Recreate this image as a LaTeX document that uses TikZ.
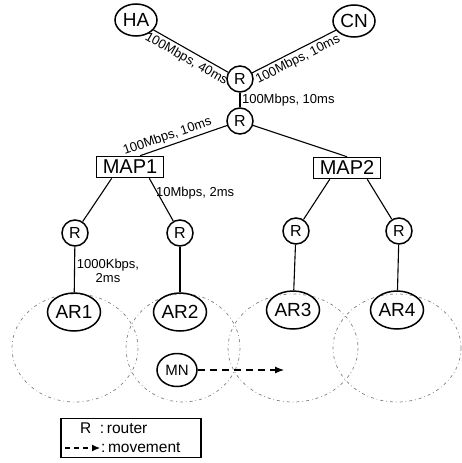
\documentclass[tikz,border=0pt]{standalone}
\usepackage{fontspec}
\setmainfont{Liberation Sans}
\usetikzlibrary{shapes.geometric,arrows.meta}

\tikzset{
  nodeline/.style={draw, line width=1.5pt, inner sep=0pt},
  host/.style={nodeline, ellipse, minimum width=42pt, minimum height=32pt,
    font=\fontsize{19}{19}\selectfont},
  router/.style={nodeline, circle, minimum size=26pt,
    font=\fontsize{16}{16}\selectfont},
  mapbox/.style={nodeline, rectangle, minimum width=67pt, minimum height=21pt,
    font=\fontsize{20}{20}\selectfont},
  access/.style={nodeline, ellipse, minimum width=53pt, minimum height=38pt,
    font=\fontsize{19}{19}\selectfont},
  mobile/.style={nodeline, ellipse, minimum width=40pt, minimum height=33pt,
    font=\fontsize{15}{15}\selectfont},
  cell/.style={draw=gray, line width=0.7pt,
    dash pattern=on 3pt off 3pt on 0.7pt off 3pt},
  link/.style={line width=1.1pt},
  linklabel/.style={font=\fontsize{13}{14}\selectfont, inner sep=2.5pt},
  legendtext/.style={font=\fontsize{15.5}{16}\selectfont, anchor=west, inner sep=1pt},
  move/.style={line width=1.1pt, dash pattern=on 7pt off 5pt,
    -{Latex[length=9pt,width=7pt]}}
}

\begin{document}
\begin{tikzpicture}[x=1pt, y=-1pt]
\useasboundingbox (0,0) rectangle (462,463);

% Cells round the access routers
\draw[cell] (75,348) ellipse (63 and 54);
\draw[cell] (183,348) ellipse (57 and 54);
\draw[cell] (293,348) ellipse (65 and 54);
\draw[cell] (397,348) ellipse (64 and 54);

% Home agent, correspondent node and core routers
\node[host] (HA) at (136,20) {HA};
\node[host] (CN) at (354,21) {CN};
\node[router] (R0) at (240,79) {R};
\node[router] (R1) at (240,121) {R};

% Mobility anchor points
\node[mapbox] (MAP1) at (130,167) {MAP1};
\node[mapbox] (MAP2) at (347,168) {MAP2};

% Routers below the MAPs
\node[router] (R11) at (75,233) {R};
\node[router] (R12) at (180,233) {R};
\node[router] (R21) at (296,231) {R};
\node[router] (R22) at (399,231) {R};

% Access routers and mobile node
\node[access] (AR1) at (74,312) {AR1};
\node[access] (AR2) at (180,312) {AR2};
\node[access] (AR3) at (293,310) {AR3};
\node[access] (AR4) at (397,310) {AR4};
\node[mobile] (MN) at (177,370) {MN};
\coordinate (MNend) at (284,370);

% Links
\draw[link] (HA) -- node[linklabel, midway, sloped, below] {100Mbps, 40ms} (R0);
\draw[link] (R0) -- node[linklabel, midway, sloped, below] {100Mbps, 10ms} (CN);
\draw[link] (R0) -- node[linklabel, midway, right, inner sep=1.5pt] {100Mbps, 10ms} (R1);
\draw[link] ([xshift=10pt]MAP1.north) -- node[linklabel, pos=0.35, sloped, above] {100Mbps, 10ms} (R1);
\draw[link] (R1) -- (MAP2.north);

\draw[link] ([xshift=16pt]MAP1.south west) -- (R11);
\draw[link] ([xshift=-15pt]MAP1.south east) -- (R12);
\draw[link] ([xshift=17pt]MAP2.south west) -- (R21);
\draw[link] ([xshift=-14pt]MAP2.south east) -- (R22);

\draw[link] (R11) -- (AR1);
\draw[link] (R12) -- (AR2);
\draw[link] (R21) -- (AR3);
\draw[link] (R22) -- (AR4);

\node[linklabel, anchor=west, inner sep=1pt] (bw1) at (155,193) {10Mbps, 2ms};
\node[linklabel, align=center, inner sep=1pt] (bw2) at (108,271) {1000Kbps,\\2ms};

% Movement of the mobile node
\draw[move] (MN) -- (MNend);

% Legend
\node[draw, line width=1.3pt, minimum width=140pt, minimum height=39pt] (legend) at (131,438) {};
\node[legendtext] (lgR) at (79,428) {R\ \ :\,router};
\coordinate (lgA) at (65,448);
\coordinate (lgB) at (100,448);
\draw[move, dash pattern=on 5pt off 4pt, -{Latex[length=8pt,width=7pt]}] (lgA) -- (lgB);
\node[legendtext] (lgM) at (lgB) {:\,movement};

\end{tikzpicture}
\end{document}
